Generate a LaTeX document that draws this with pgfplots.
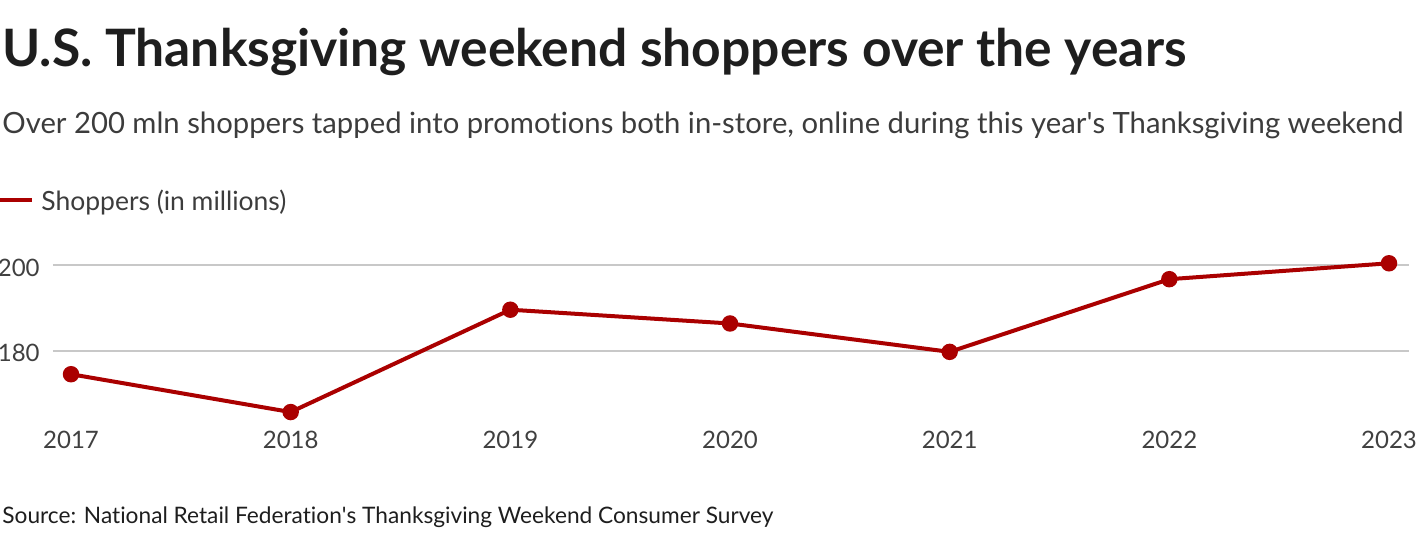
\documentclass[border=0pt]{standalone}
\usepackage{pgfplots}
\pgfplotsset{compat=1.18}
\usepackage{fontspec}
\setmainfont{Lato}[Ligatures={NoCommon}]
\newfontfamily\straight{Lato}[Ligatures={NoCommon}]
\newcommand{\ap}{{\straight'}}
\definecolor{linered}{HTML}{AA0000}
\definecolor{titlecol}{HTML}{1E1E1E}
\definecolor{subcol}{HTML}{3C3C3C}
\definecolor{tickcol}{HTML}{404040}
\definecolor{gridcol}{HTML}{C8C8C8}
\begin{document}
\begin{tikzpicture}[x=0.5pt,y=0.5pt]
\path[use as bounding box] (0,0) rectangle (1420,536);
\node[anchor=base west, inner sep=0pt, text=titlecol] at (2,536-66.7) {\resizebox{592pt}{!}{\bfseries U.S. Thanksgiving weekend shoppers over the years}};
\node[anchor=base west, inner sep=0pt, text=subcol] at (2,536-133.3) {\resizebox{700.5pt}{!}{Over 200 mln shoppers tapped into promotions both in-store, online during this year\ap s Thanksgiving weekend}};
\draw[linered, line width=2pt] (0,536-200) -- (32,536-200);
\node[anchor=base west, inner sep=0pt, text=subcol] at (41,536-211) {\resizebox{122.5pt}{!}{Shoppers (in millions)}};
\node[anchor=base west, inner sep=0pt, text=titlecol] at (2,536-523.3) {\resizebox{385.5pt}{!}{Source: National Retail Federation\ap s Thanksgiving Weekend Consumer Survey}};
\begin{axis}[at={(26.5pt,55.95pt)}, anchor=south west, scale only axis,
  width=678pt, height=86pt,
  xmin=2016.918, xmax=2023.091, ymin=163, ymax=203,
  axis line style={draw=none}, major tick length=0pt,
  xtick={2017,2018,2019,2020,2021,2022,2023}, ytick={180,200},
  ymajorgrids, grid style={draw=gridcol, line width=0.75pt},
  tick label style={font=\fontsize{12}{12}\selectfont, text=tickcol, inner sep=0pt},
  /pgf/number format/assume math mode=true, /pgf/number format/1000 sep={},
  xticklabel style={anchor=north, yshift=-3.5pt},
  yticklabel style={anchor=east, xshift=-6.5pt, yshift=-1.2pt},
  clip=false]
\addplot[linered, line width=2pt, mark=*, mark size=3.1pt, mark options={fill=linered, draw=none}]
  coordinates {(2017,174.6) (2018,165.8) (2019,189.6) (2020,186.4) (2021,179.8) (2022,196.7) (2023,200.4)};
\end{axis}
\end{tikzpicture}
\end{document}
